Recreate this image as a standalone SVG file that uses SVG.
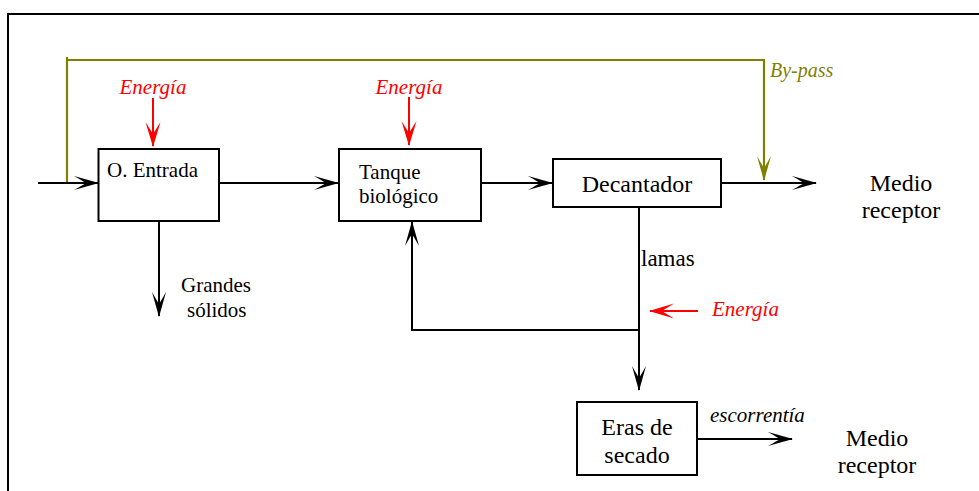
<svg xmlns="http://www.w3.org/2000/svg" width="979" height="491" viewBox="0 0 979 491">
<style>
.box{fill:#fff;stroke:#000;stroke-width:2}
.ln{fill:none;stroke:#000;stroke-width:2}
.red{fill:none;stroke:#ff0000;stroke-width:2}
.ol{fill:none;stroke:#808000;stroke-width:2.2}
text{font-family:'Liberation Serif','Times New Roman',Tinos,'DejaVu Serif',serif;fill:#000}
.it{font-style:italic}
.r{fill:#ff0000}
.o{fill:#808000}
.m{text-anchor:middle}
</style>
<defs>
<marker id="ab" markerUnits="userSpaceOnUse" markerWidth="30" markerHeight="20" refX="0" refY="0" orient="auto" overflow="visible">
<path d="M1,0 L-24,-7 Q-16,-2.5 -12,0 Q-16,2.5 -24,7 Z" fill="#000"/>
</marker>
<marker id="ar" markerUnits="userSpaceOnUse" markerWidth="30" markerHeight="20" refX="0" refY="0" orient="auto" overflow="visible">
<path d="M1,0 L-24,-7.5 Q-16,-2.5 -12,0 Q-16,2.5 -24,7.5 Z" fill="#ff0000"/>
</marker>
<marker id="ao" markerUnits="userSpaceOnUse" markerWidth="30" markerHeight="20" refX="0" refY="0" orient="auto" overflow="visible">
<path d="M1,0 L-24,-7 Q-16,-2.5 -12,0 Q-16,2.5 -24,7 Z" fill="#808000"/>
</marker>
</defs>
<rect x="8" y="14" width="1000" height="500" fill="none" stroke="#000" stroke-width="2"/>
<g id="connectors">
<path class="ol" d="M67,57 L67,183"/>
<path class="ol" d="M67,60 L764,60 L764,180" marker-end="url(#ao)"/>
<path class="ln" d="M38,183 L98,183" marker-end="url(#ab)"/>
<path class="ln" d="M219,183 L338,183" marker-end="url(#ab)"/>
<path class="ln" d="M481,183 L552,183" marker-end="url(#ab)"/>
<path class="ln" d="M721,183 L816,183" marker-end="url(#ab)"/>
<path class="ln" d="M159,221 L159,316" marker-end="url(#ab)"/>
<path class="ln" d="M639,207 L639,390" marker-end="url(#ab)"/>
<path class="ln" d="M639,330 L412,330 L412,222" marker-end="url(#ab)"/>
<path class="ln" d="M697,439 L792,439" marker-end="url(#ab)"/>
<path class="red" d="M153,98 L153,146" marker-end="url(#ar)"/>
<path class="red" d="M409,97 L409,145" marker-end="url(#ar)"/>
<path class="red" d="M698,311 L650,311" marker-end="url(#ar)"/>
</g>
<g id="labels">
<text class="it r m" x="153" y="94" font-size="21">Energía</text>
<text class="it r m" x="409" y="94" font-size="21">Energía</text>
<text class="it r" x="712" y="316" font-size="21">Energía</text>
<text class="it o" x="770" y="77" font-size="20">By-pass</text>
<text x="181" y="292" font-size="21">Grandes</text>
<text x="187" y="317" font-size="21">sólidos</text>
<text x="641" y="266" font-size="23">lamas</text>
<text class="it" x="710" y="422" font-size="21">escorrentía</text>
<text class="m" x="901" y="191" font-size="24">Medio</text>
<text class="m" x="901" y="218" font-size="24">receptor</text>
<text class="m" x="877" y="446" font-size="24">Medio</text>
<text class="m" x="877" y="473" font-size="24">receptor</text>
</g>
<g id="entrada">
<rect class="box" x="98.5" y="149" width="120.5" height="72"/>
<text x="107" y="177" font-size="21">O. Entrada</text>
</g>
<g id="tanque">
<rect class="box" x="339" y="149" width="142" height="72"/>
<text x="359" y="179" font-size="21">Tanque</text>
<text x="359" y="203" font-size="21">biológico</text>
</g>
<g id="decantador">
<rect class="box" x="553" y="159" width="168" height="48"/>
<text class="m" x="637" y="192" font-size="24">Decantador</text>
</g>
<g id="eras">
<rect class="box" x="577" y="402" width="120" height="73"/>
<text class="m" x="637" y="435" font-size="24">Eras de</text>
<text class="m" x="637" y="463" font-size="24">secado</text>
</g>
</svg>
